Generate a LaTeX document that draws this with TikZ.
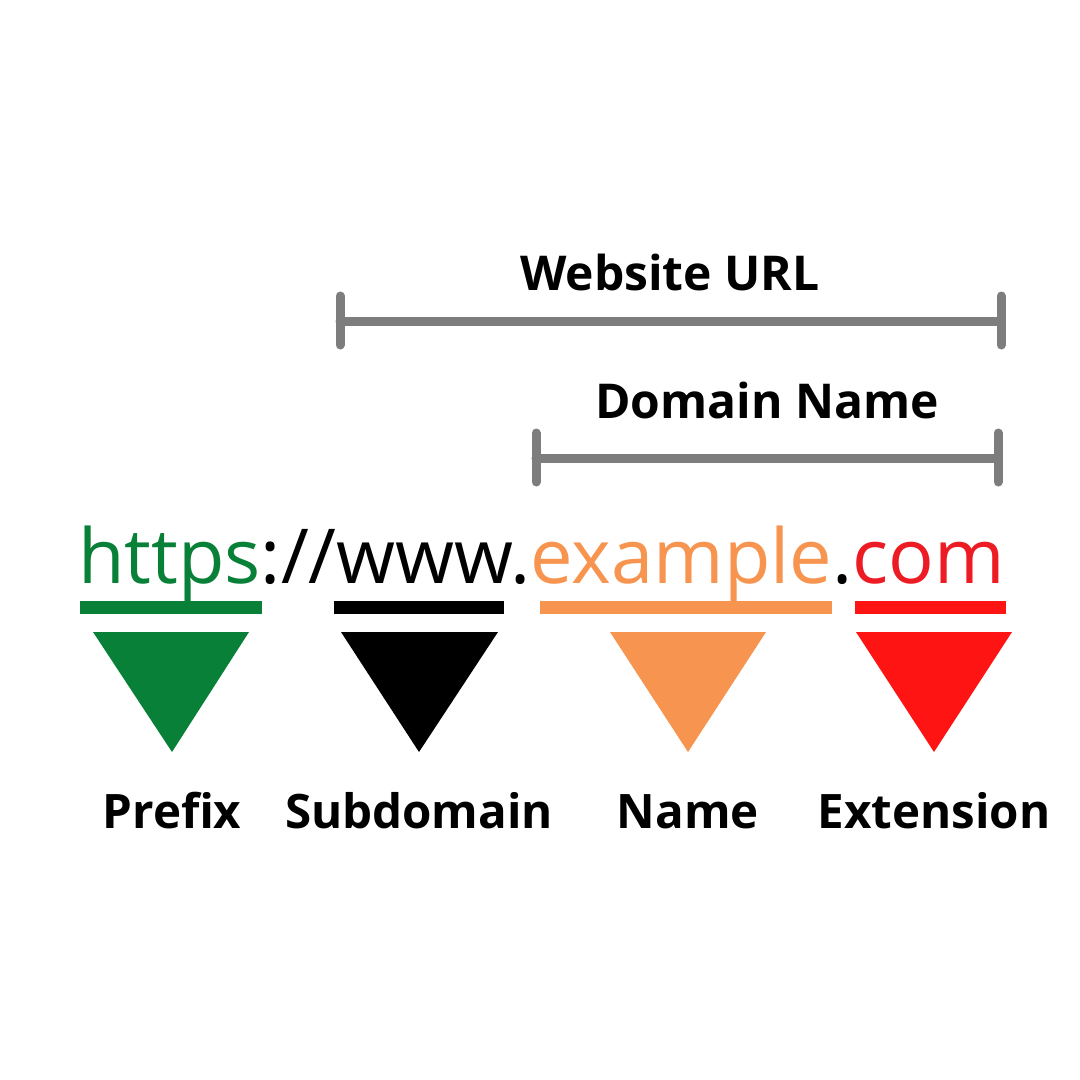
\documentclass[tikz,border=0pt]{standalone}
\usepackage{fontspec}
\setmainfont{Open Sans}
\definecolor{pgreen}{RGB}{8,128,56}
\definecolor{porange}{RGB}{247,148,80}
\definecolor{pred}{RGB}{237,28,36}
\definecolor{pbright}{RGB}{255,20,20}
\definecolor{pgray}{RGB}{125,125,125}
\tikzset{
  ubar/.style={line width=13pt},
  bracket/.style={draw=pgray, line width=9pt, line cap=round},
  lbl/.style={font=\fontsize{47.5}{50}\selectfont\bfseries, anchor=base, inner sep=0pt},
  toplbl/.style={font=\fontsize{48}{50}\selectfont\bfseries, anchor=base, inner sep=0pt},
  urltext/.style={font=\fontsize{75.8}{80}\selectfont, anchor=base west, inner sep=0pt}
}
\begin{document}
\begin{tikzpicture}[x=1pt,y=-1pt]
\useasboundingbox (0,0) rectangle (1080,1080);
\fill[white] (0,0) rectangle (1080,1080);

% brackets
\node[toplbl] (wurl) at (670,290) {Website URL};
\coordinate (wl) at (340,321);
\coordinate (wr) at (1001,321);
\draw[bracket] (340,296) -- (340,345);
\draw[bracket] (1001,296) -- (1001,345);
\draw[bracket] (wl) -- (wr);

\node[toplbl] (dname) at (767,418) {Domain Name};
\coordinate (dl) at (536,458);
\coordinate (dr) at (998,458);
\draw[bracket] (536,433) -- (536,482);
\draw[bracket] (998,433) -- (998,482);
\draw[bracket] (dl) -- (dr);

% URL
\node[urltext] (url) at (78,583) {\textcolor{pgreen}{https}://www.\textcolor{porange}{example}.\textcolor{pred}{com}};

% underline bars
\draw[ubar, pgreen] (80,607.5) -- (262,607.5);
\draw[ubar, black] (334,607.5) -- (504,607.5);
\draw[ubar, porange] (540,607.5) -- (832,607.5);
\draw[ubar, pbright] (855,607.5) -- (1006,607.5);

% triangles
\fill[pgreen] (93,632) -- (249,632) -- (172,752) -- cycle;
\fill[black] (341,632) -- (498,632) -- (419,752) -- cycle;
\fill[porange] (610,632) -- (766,632) -- (688,752) -- cycle;
\fill[pbright] (856,632) -- (1012,632) -- (934,752) -- cycle;

% labels
\node[lbl] (prefix) at (172,828) {Prefix};
\node[lbl] (sub) at (419,828) {Subdomain};
\node[lbl] (name) at (688,828) {Name};
\node[lbl] (ext) at (934,828) {Extension};
\end{tikzpicture}
\end{document}
